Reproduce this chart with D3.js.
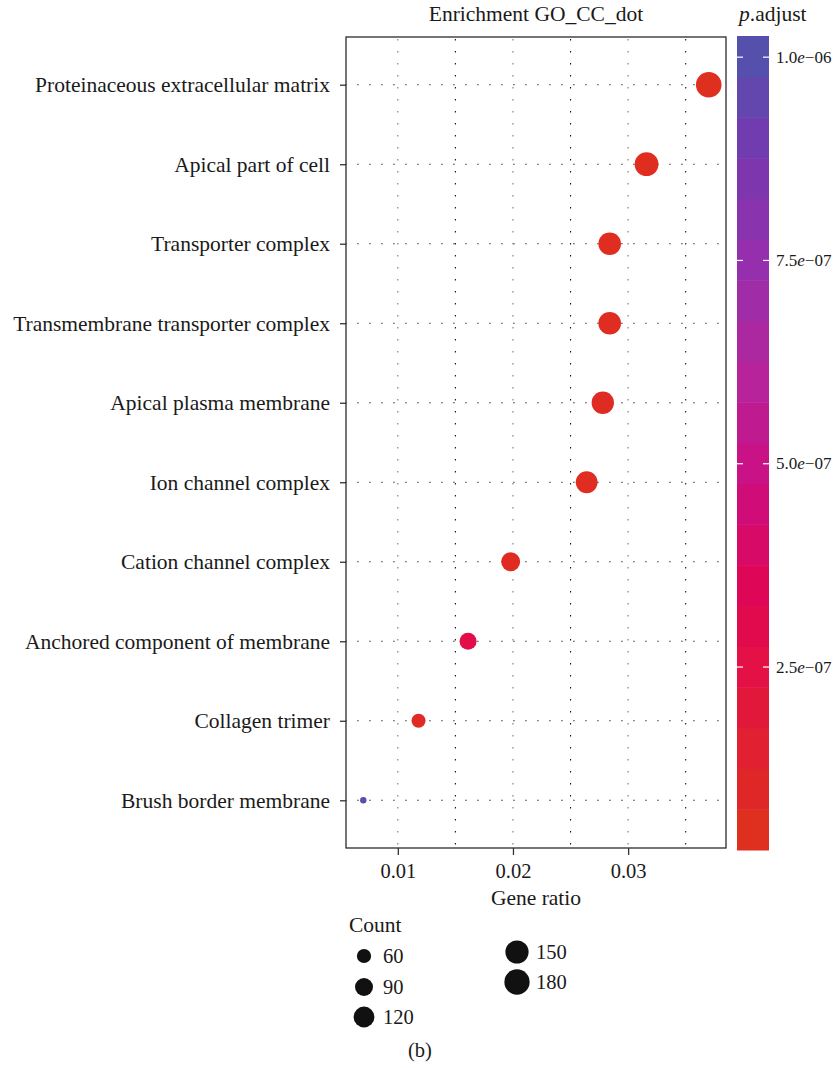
<!DOCTYPE html>
<html>
<head>
<meta charset="utf-8">
<script src="https://cdn.jsdelivr.net/npm/d3@7"></script>
<style>
  html, body { margin: 0; padding: 0; background: #fff; }
  svg text { font-family: "Liberation Serif", "Times New Roman", serif; fill: #1a1a1a; }
</style>
</head>
<body>
<svg id="chart" width="839" height="1068"></svg>
<script>
// GO cellular component enrichment (top 10 terms)
const terms = [
  "Proteinaceous extracellular matrix",
  "Apical part of cell",
  "Transporter complex",
  "Transmembrane transporter complex",
  "Apical plasma membrane",
  "Ion channel complex",
  "Cation channel complex",
  "Anchored component of membrane",
  "Collagen trimer",
  "Brush border membrane"
];
const geneRatio = [0.0370, 0.0316, 0.0284, 0.0284, 0.0278, 0.0264, 0.0198, 0.0161, 0.0118, 0.0070];
const geneCount = [185, 158, 142, 142, 139, 132, 99, 81, 59, 35];
const pAdjust   = [5.0e-8, 5.5e-8, 6.0e-8, 6.3e-8, 6.8e-8, 6.6e-8, 7.4e-8, 2.8e-7, 8.2e-8, 1.001e-6];

const xTicks = [0.01, 0.02, 0.03];
const xMinorTicks = [0.015, 0.025, 0.035];
const pTicks = [2.5e-7, 5.0e-7, 7.5e-7, 1.0e-6];
const pTickLabels = ["2.5", "5.0", "7.5", "1.0"];
const pTickExps = ["07", "07", "07", "06"];
const countBreaks = [60, 90, 120, 150, 180];

const svg = d3.select("#chart");

// panel geometry
const panel = { left: 346, right: 726, top: 37, bottom: 848 };

// x: gene ratio with 5% expansion on each side
const xExt = d3.extent(geneRatio);
const xPad = (xExt[1] - xExt[0]) * 0.05;
const x = d3.scaleLinear()
  .domain([xExt[0] - xPad, xExt[1] + xPad])
  .range([panel.left, panel.right]);

// y: discrete terms, first term at the top
const y = d3.scalePoint()
  .domain(terms)
  .range([panel.top, panel.bottom])
  .padding(0.6);

// size: area-proportional radius between min and max counts
const cExt = d3.extent(geneCount);
const rMin = 3.2, rMax = 12.8;
const rScale = d3.scaleSqrt().domain([0, cExt[1] - cExt[0]]).range([0, rMax - rMin]);
const radius = c => rMin + rScale(Math.max(0, c - cExt[0]));

// colour: p.adjust ramp, red (low) to blue-violet (high)
const pExt = d3.extent(pAdjust);
const pNorm = d3.scaleLinear().domain(pExt).range([0, 1]);
const ramp = d3.scaleLinear()
  .domain([0, 0.2, 0.3, 0.45, 0.6, 0.75, 0.88, 1])
  .range(["#DF2F1E", "#E31243", "#E00652", "#CC0E82", "#B3269E", "#9330AE", "#7539B0", "#5550AC"])
  .interpolate(d3.interpolateRgb);
const colour = p => ramp(pNorm(p));

// ---- panel grid ----
const grid = svg.append("g");
// horizontal dotted lines at each term
grid.selectAll("line.h").data(terms).join("line")
  .attr("x1", panel.left).attr("x2", panel.right)
  .attr("y1", d => y(d)).attr("y2", d => y(d))
  .attr("stroke", "#555").attr("stroke-width", 1.1)
  .attr("stroke-dasharray", "1.8 10.2").attr("stroke-dashoffset", -11);
// vertical dotted lines: labelled breaks lighter, minor breaks darker
grid.selectAll("line.vmaj").data(xTicks).join("line")
  .attr("x1", d => x(d)).attr("x2", d => x(d))
  .attr("y1", panel.top).attr("y2", panel.bottom)
  .attr("stroke", "#777").attr("stroke-width", 1.1)
  .attr("stroke-dasharray", "1.4 10.6").attr("stroke-dashoffset", -2);
grid.selectAll("line.vmin").data(xMinorTicks).join("line")
  .attr("x1", d => x(d)).attr("x2", d => x(d))
  .attr("y1", panel.top).attr("y2", panel.bottom)
  .attr("stroke", "#111").attr("stroke-width", 1.1)
  .attr("stroke-dasharray", "1.4 10.6").attr("stroke-dashoffset", -2);

// ---- points ----
const rows = terms.map((t, i) => ({ term: t, ratio: geneRatio[i], count: geneCount[i], p: pAdjust[i] }));
svg.append("g").selectAll("circle").data(rows).join("circle")
  .attr("cx", d => x(d.ratio))
  .attr("cy", d => y(d.term))
  .attr("r", d => radius(d.count))
  .attr("fill", d => colour(d.p));

// panel border
svg.append("rect")
  .attr("x", panel.left).attr("y", panel.top)
  .attr("width", panel.right - panel.left).attr("height", panel.bottom - panel.top)
  .attr("fill", "none").attr("stroke", "#2b2b2b").attr("stroke-width", 1.3);

// ---- axes ----
const yAxis = svg.append("g")
  .attr("transform", `translate(${panel.left},0)`)
  .call(d3.axisLeft(y).tickSize(6).tickPadding(10));
yAxis.select(".domain").remove();
yAxis.selectAll(".tick line").attr("stroke", "#333").attr("stroke-width", 1.3);
yAxis.selectAll(".tick text")
  .attr("font-size", 21.5).attr("fill", "#1a1a1a")
  .style("font-family", "'Liberation Serif', serif");

const xAxis = svg.append("g")
  .attr("transform", `translate(0,${panel.bottom})`)
  .call(d3.axisBottom(x).tickValues(xTicks).tickFormat(d3.format(".2f")).tickSize(7).tickPadding(8));
xAxis.select(".domain").remove();
xAxis.selectAll(".tick line").attr("stroke", "#333").attr("stroke-width", 1.3);
xAxis.selectAll(".tick text")
  .attr("font-size", 20.5).attr("fill", "#1a1a1a")
  .style("font-family", "'Liberation Serif', serif");

svg.append("text")
  .attr("x", (panel.left + panel.right) / 2).attr("y", 905)
  .attr("text-anchor", "middle").attr("font-size", 21.5)
  .text("Gene ratio");

svg.append("text")
  .attr("x", (panel.left + panel.right) / 2).attr("y", 21)
  .attr("text-anchor", "middle").attr("font-size", 21.5)
  .text("Enrichment GO_CC_dot");

// ---- colour bar ----
const bar = { left: 737, width: 32, top: 36, bottom: 850 };
const nbin = 20;
const binH = (bar.bottom - bar.top) / nbin;
const binValues = d3.range(nbin).map(i => pExt[0] + (pExt[1] - pExt[0]) * i / (nbin - 1));
svg.append("g").selectAll("rect").data(binValues).join("rect")
  .attr("x", bar.left)
  .attr("y", (d, i) => bar.bottom - (i + 1) * binH)
  .attr("width", bar.width)
  .attr("height", binH + 0.5)
  .attr("fill", d => colour(d));

const barY = d3.scaleLinear().domain(pExt).range([bar.bottom - binH / 2, bar.top + binH / 2]);
const barTicks = svg.append("g");
pTicks.forEach((v, i) => {
  const ty = barY(v);
  barTicks.append("line").attr("x1", bar.left).attr("x2", bar.left + 6)
    .attr("y1", ty).attr("y2", ty).attr("stroke", "#fff").attr("stroke-width", 1.2);
  barTicks.append("line").attr("x1", bar.left + bar.width - 6).attr("x2", bar.left + bar.width)
    .attr("y1", ty).attr("y2", ty).attr("stroke", "#fff").attr("stroke-width", 1.2);
  const t = barTicks.append("text").attr("x", 776).attr("y", ty + 5.5).attr("font-size", 17);
  t.append("tspan").text(pTickLabels[i]);
  t.append("tspan").attr("font-style", "italic").text("e");
  t.append("tspan").text("\u2212" + pTickExps[i]);
});

const legTitle = svg.append("text").attr("x", 739).attr("y", 21).attr("font-size", 21.5);
legTitle.append("tspan").attr("font-style", "italic").text("p");
legTitle.append("tspan").text(".adjust");

// ---- size legend ----
svg.append("text").attr("x", 349).attr("y", 932).attr("font-size", 21.5).text("Count");
const legPos = [
  { cx: 364, cy: 956 }, { cx: 364, cy: 987 }, { cx: 364, cy: 1017 },
  { cx: 517, cy: 952 }, { cx: 517, cy: 982 }
];
const sizeLeg = svg.append("g");
countBreaks.forEach((c, i) => {
  const p = legPos[i];
  sizeLeg.append("circle").attr("cx", p.cx).attr("cy", p.cy).attr("r", radius(c)).attr("fill", "#111");
  sizeLeg.append("text").attr("x", p.cx + 19).attr("y", p.cy + 7).attr("font-size", 20.5).text(c);
});

svg.append("text").attr("x", 420).attr("y", 1057)
  .attr("text-anchor", "middle").attr("font-size", 20.5).text("(b)");
</script>
</body>
</html>
